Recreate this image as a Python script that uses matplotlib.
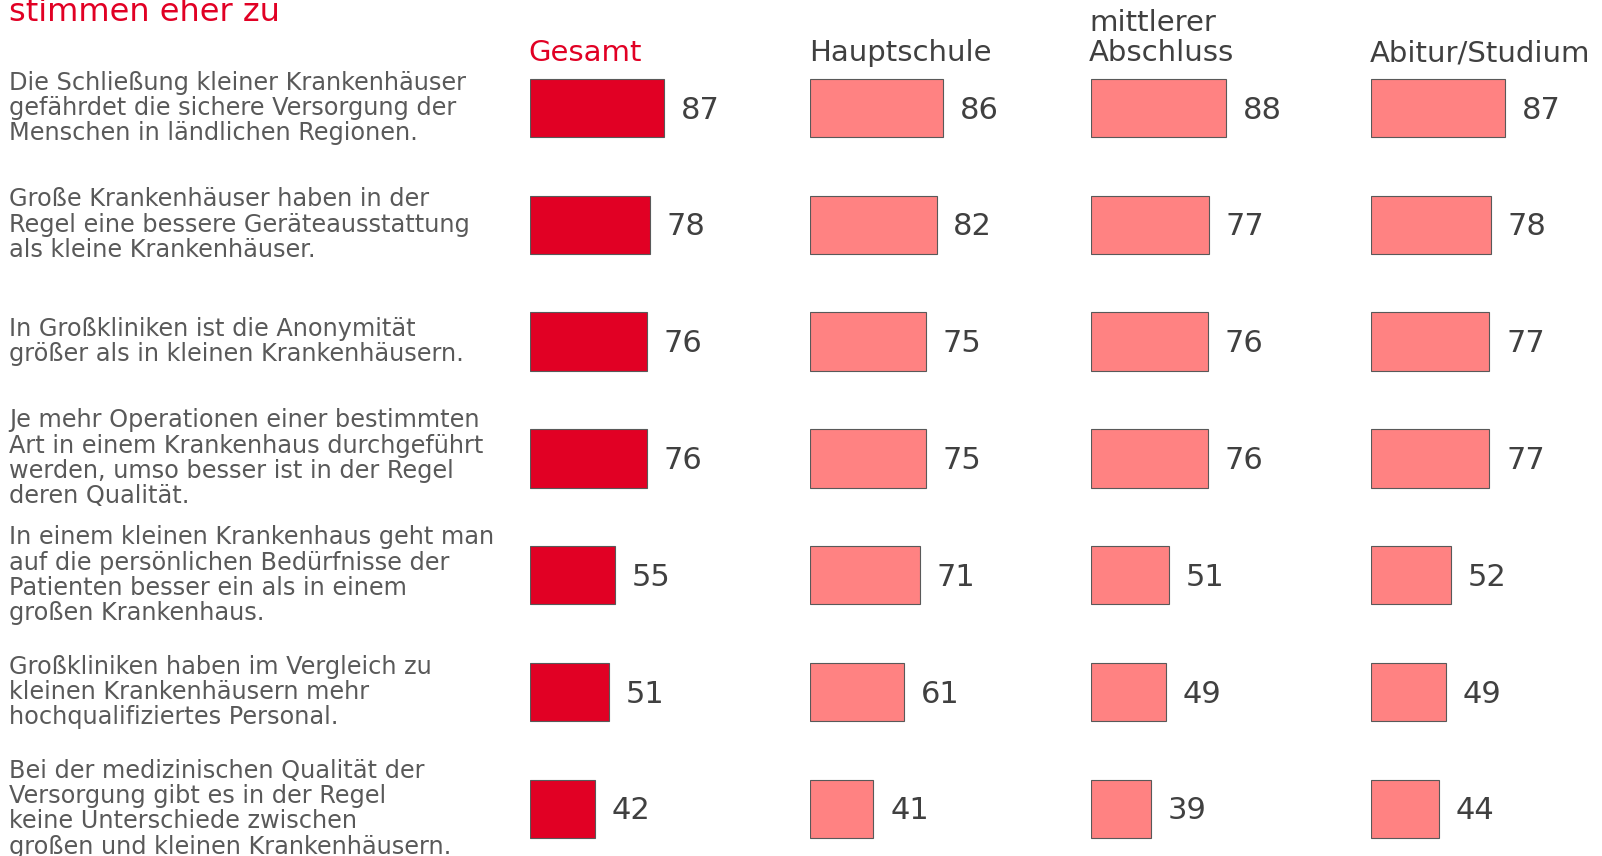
import matplotlib.pyplot as plt
from matplotlib.transforms import blended_transform_factory

# data
statements = [
    "Die Schließung kleiner Krankenhäuser\ngefährdet die sichere Versorgung der\nMenschen in ländlichen Regionen.",
    "Große Krankenhäuser haben in der\nRegel eine bessere Geräteausstattung\nals kleine Krankenhäuser.",
    "In Großkliniken ist die Anonymität\ngrößer als in kleinen Krankenhäusern.",
    "Je mehr Operationen einer bestimmten\nArt in einem Krankenhaus durchgeführt\nwerden, umso besser ist in der Regel\nderen Qualität.",
    "In einem kleinen Krankenhaus geht man\nauf die persönlichen Bedürfnisse der\nPatienten besser ein als in einem\ngroßen Krankenhaus.",
    "Großkliniken haben im Vergleich zu\nkleinen Krankenhäusern mehr\nhochqualifiziertes Personal.",
    "Bei der medizinischen Qualität der\nVersorgung gibt es in der Regel\nkeine Unterschiede zwischen\ngroßen und kleinen Krankenhäusern.",
]
groups = ["Gesamt", "Hauptschule", "mittlerer\nAbschluss", "Abitur/Studium"]
gesamt = [87, 78, 76, 76, 55, 51, 42]
hauptschule = [86, 82, 75, 75, 71, 61, 41]
mittlerer = [88, 77, 76, 76, 51, 49, 39]
abitur = [87, 78, 77, 77, 52, 49, 44]
values = [gesamt, hauptschule, mittlerer, abitur]

RED = "#e10024"
LIGHT = "#ff8282"
GREY = "#595959"

W, H = 1602, 856
fig = plt.figure(figsize=(W / 100, H / 100), dpi=100)

row_px = 116.8
first_center = 108
top = first_center - row_px / 2
bottom = top + row_px * 7
ax_w = 154  # px for 100 units

axes = []
for i, (name, vals) in enumerate(zip(groups, values)):
    left = 530 + 280.3 * i
    ax = fig.add_axes([left / W, 1 - bottom / H, ax_w / W, (bottom - top) / H])
    ax.set_xlim(0, 100)
    ax.set_ylim(6.5, -0.5)
    ax.axis("off")
    ypos = list(range(len(vals)))
    color = RED if i == 0 else LIGHT
    ax.barh(ypos, vals, height=0.5, color=color, edgecolor=GREY, linewidth=0.8)
    for y, v in zip(ypos, vals):
        ax.annotate(str(v), (v, y), xytext=(12, -1.5), textcoords="offset points",
                    va="center", ha="left", fontsize=22, color="#404040")
    ax.text(-1, -0.40, name, ha="left", va="baseline", fontsize=21,
            color=RED if i == 0 else "#404040", linespacing=1.1)
    axes.append(ax)

trans = blended_transform_factory(fig.transFigure, axes[0].transData)
for y, s in enumerate(statements):
    axes[0].text(9 / W, y, s, transform=trans, ha="left", va="center",
                 fontsize=17.3, color=GREY, linespacing=1.07)

fig.text(9 / W, 1 - 21 / H, "stimmen eher zu", ha="left", va="baseline",
         fontsize=23, color=RED)

fig.savefig("out.png", dpi=100)
